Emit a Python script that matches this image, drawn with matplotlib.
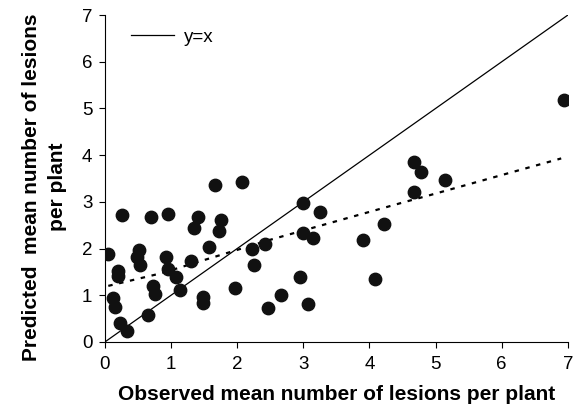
import matplotlib.pyplot as plt

plt.rcParams['font.family'] = ['Liberation Sans', 'DejaVu Sans']

# observed vs predicted lesions per plant
observed = [0.05, 0.25, 0.20, 0.20, 0.12, 0.15, 0.23, 0.34, 0.52, 0.49,
            0.53, 0.70, 0.65, 0.73, 0.76, 0.95, 0.92, 0.95, 1.08, 1.14,
            1.30, 1.35, 1.41, 1.49, 1.49, 1.57, 1.67, 1.76, 1.73, 1.97,
            2.07, 2.23, 2.26, 2.42, 2.46, 2.66, 2.99, 3.25, 2.99, 3.15,
            2.95, 3.07, 3.90, 4.08, 4.22, 4.67, 4.78, 4.67, 5.15, 6.94]
predicted = [1.88, 2.72, 1.51, 1.41, 0.94, 0.74, 0.40, 0.24, 1.96, 1.81,
             1.65, 2.67, 0.58, 1.20, 1.03, 2.75, 1.81, 1.56, 1.39, 1.11,
             1.73, 2.45, 2.68, 0.97, 0.84, 2.03, 3.36, 2.61, 2.37, 1.16,
             3.43, 1.99, 1.65, 2.10, 0.73, 1.00, 2.98, 2.79, 2.33, 2.22,
             1.39, 0.81, 2.18, 1.34, 2.53, 3.85, 3.63, 3.21, 3.47, 5.18]

# fitted trend (dotted)
trend_x = [0.05, 0.85, 2.48, 4.54, 4.88, 6.90]
trend_y = [1.20, 1.47, 2.18, 3.00, 3.13, 3.93]

fig = plt.figure(figsize=(5.8, 4.08), dpi=100)
ax = fig.add_axes([0.181, 0.162, 0.798, 0.801])

ax.plot([0, 7], [0, 7], color='black', lw=0.9, label='y=x')
ax.plot(trend_x, trend_y, color='black', lw=1.6, linestyle=(0, (2, 3)))
ax.scatter(observed, predicted, s=80, color='#111111', zorder=3)

ax.set_xlim(0, 7)
ax.set_ylim(0, 7)
ax.set_xticks(range(8))
ax.set_yticks(range(8))
ax.tick_params(labelsize=13.5, direction='out', length=4, width=0.8, pad=5)
ax.tick_params(axis='x', pad=6.5)
for side in ['top', 'right']:
    ax.spines[side].set_visible(False)

ax.set_xlabel('Observed mean number of lesions per plant', fontsize=15, fontweight='bold', labelpad=8)
ax.set_ylabel('Predicted  mean number of lesions\nper plant', fontsize=15, fontweight='bold',
              linespacing=1.5)
ax.yaxis.set_label_coords(-0.082, 0.474)

ax.legend(loc='upper left', frameon=False, fontsize=13.5, handlelength=2.3, handletextpad=0.5,
          bbox_to_anchor=(0.02, 1.01))

plt.savefig('out.png', dpi=100)
